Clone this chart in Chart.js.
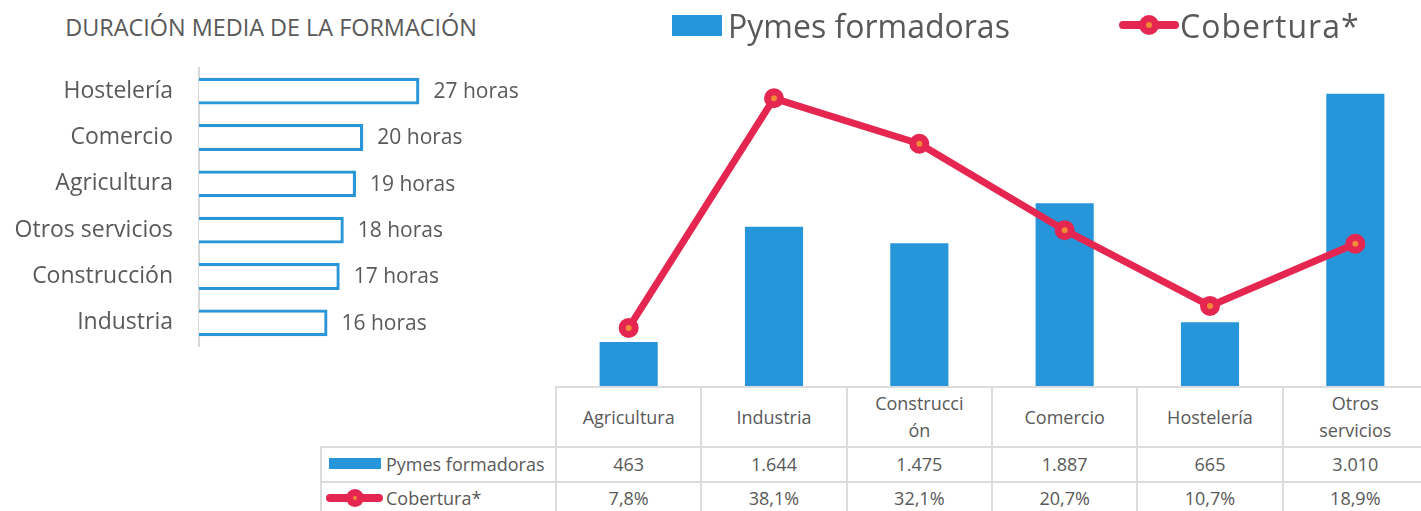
<!DOCTYPE html>
<html lang="es"><head><meta charset="utf-8">
<script src="https://cdn.jsdelivr.net/npm/chart.js@4/dist/chart.umd.min.js"></script>
<style>
html,body{margin:0;padding:0;background:#fff;}
body{width:1421px;height:511px;overflow:hidden;position:relative;font-family:'Open Sans',sans-serif;color:#595959;}
.abs{position:absolute;}
#title{left:0;top:12px;width:542px;text-align:center;font-size:23.4px;line-height:30px;white-space:nowrap;}
.leg{font-size:32px;line-height:44px;white-space:nowrap;}
.cell{position:absolute;display:flex;align-items:center;justify-content:center;text-align:center;font-size:18px;line-height:27px;white-space:nowrap;}
.hl,.vl{position:absolute;background:#dcdcdc;}
</style></head>
<body>
<div id="title" class="abs">DURACIÓN MEDIA DE LA FORMACIÓN</div>
<canvas id="left" class="abs" width="555" height="400" style="left:0;top:0;"></canvas>
<canvas id="right" class="abs" width="872" height="341" style="left:556px;top:46px;"></canvas>
<div id="legend"></div>
<div id="table"></div>
<script>
// ---- data ----
const durCategories = ['Hostelería','Comercio','Agricultura','Otros servicios','Construcción','Industria'];
const durHours = [27.1, 20.2, 19.3, 17.8, 17.3, 15.8];

const sectors = ['Agricultura','Industria','Construcción','Comercio','Hostelería','Otros servicios'];
const sectorHeaderLines = [['Agricultura'],['Industria'],['Construcci','ón'],['Comercio'],['Hostelería'],['Otros','servicios']];
const pymes = [463, 1644, 1475, 1887, 665, 3010];
const cobertura = [7.8, 38.1, 32.1, 20.7, 10.7, 18.9];
const seriesNames = ['Pymes formadoras','Cobertura*'];

const BLUE = '#2795d9', RED = '#e42650', ORANGE = '#f08a37', TXT = '#595959';
const FONT = "'Open Sans', sans-serif";

// ---- left chart ----
const valueLabels = {
  id:'valueLabels',
  afterDatasetsDraw(chart){
    const ctx = chart.ctx; const meta = chart.getDatasetMeta(0);
    ctx.save(); ctx.font = "21px " + FONT; ctx.fillStyle = TXT; ctx.textBaseline = 'middle'; ctx.textAlign='left';
    meta.data.forEach((bar,i)=>{ ctx.fillText(Math.round(durHours[i]) + ' horas', bar.x + 14, bar.y + 1); });
    ctx.restore();
  }
};
new Chart(document.getElementById('left'), {
  type:'bar',
  data:{labels:durCategories, datasets:[{data:durHours, backgroundColor:'#ffffff', borderColor:'#2a96d8', borderWidth:3.3, barPercentage:0.58, categoryPercentage:1}]},
  options:{
    indexAxis:'y', responsive:false, animation:false, events:[],
    layout:{autoPadding:false, padding:{top:68, bottom:54, left:0, right:112}},
    plugins:{legend:{display:false}, tooltip:{enabled:false}, title:{display:false}},
    scales:{
      x:{display:false, min:0, max:30},
      y:{afterFit(s){ s.width = 199; }, grid:{display:false, drawTicks:false}, border:{display:true, color:'#d9d9d9', width:2},
         ticks:{color:TXT, font:{family:FONT, size:23}, padding:26}}
    }
  },
  plugins:[valueLabels]
});

// ---- right chart ----
const rightCanvas = document.getElementById('right');
const chartR = new Chart(rightCanvas, {
  type:'bar',
  data:{labels:sectors, datasets:[
    {type:'line', label:seriesNames[1], data:cobertura, yAxisID:'y1', borderColor:RED, borderWidth:7,
     borderJoinStyle:'round', borderCapStyle:'round', tension:0,
     pointRadius:6.5, pointBorderWidth:7, pointBackgroundColor:ORANGE, pointBorderColor:RED, order:1, clip:false},
    {type:'bar', label:seriesNames[0], data:pymes, yAxisID:'y', backgroundColor:BLUE, barPercentage:0.4, categoryPercentage:1, order:2}
  ]},
  options:{
    responsive:false, animation:false, events:[],
    layout:{autoPadding:false, padding:0},
    plugins:{legend:{display:false}, tooltip:{enabled:false}},
    scales:{x:{display:false}, y:{display:false, min:0, max:3500}, y1:{display:false, position:'right', min:0, max:45}}
  }
});

// ---- legend (HTML) ----
function el(parent, cls, style, html){ const d=document.createElement('div'); if(cls) d.className=cls; Object.assign(d.style, style); if(html!==undefined) d.innerHTML=html; parent.appendChild(d); return d; }
function lineKey(parent, x1, x2, cy, thick, r, dot){
  el(parent,'abs',{left:x1+'px', top:(cy-thick/2)+'px', width:(x2-x1)+'px', height:thick+'px', background:RED, borderRadius:(thick/2)+'px'});
  const cx=(x1+x2)/2;
  el(parent,'abs',{left:(cx-r)+'px', top:(cy-r)+'px', width:(2*r)+'px', height:(2*r)+'px', background:RED, borderRadius:'50%'});
  el(parent,'abs',{left:(cx-dot/2)+'px', top:(cy-dot/2)+'px', width:dot+'px', height:dot+'px', background:ORANGE, borderRadius:'50%'});
}
const legend = document.getElementById('legend');
el(legend,'abs',{left:'672px', top:'15px', width:'50px', height:'21px', background:BLUE});
el(legend,'abs leg',{left:'728px', top:'4px'}, seriesNames[0]);
lineKey(legend, 1119, 1179, 25, 8.5, 10, 6);
el(legend,'abs leg',{left:'1180px', top:'4px', letterSpacing:'1px'}, seriesNames[1]);

// ---- data table (HTML, aligned to the chart's x scale) ----
const table = document.getElementById('table');
const xs = chartR.scales.x;
const cLeft = 556;
const colW = xs.width / sectors.length;
const tTop = 387, r1 = 447, r2 = 482, r3 = 515, tBot = 520;
const fmtInt = v => String(v).replace(/\B(?=(\d{3})+(?!\d))/g, '.');
const fmtPct = v => v.toFixed(1).replace('.', ',') + '%';
sectors.forEach((s,i)=>{
  const cx = cLeft + xs.getPixelForTick(i);
  el(table,'cell',{left:(cx-colW/2)+'px', top:tTop+'px', width:colW+'px', height:(r1-tTop)+'px'}, sectorHeaderLines[i].join('<br>'));
  el(table,'cell',{left:(cx-colW/2)+'px', top:r1+'px', width:colW+'px', height:(r2-r1)+'px'}, fmtInt(pymes[i]));
  el(table,'cell',{left:(cx-colW/2)+'px', top:r2+'px', width:colW+'px', height:(r3-r2)+'px'}, fmtPct(cobertura[i]));
});
// grid lines
const gridL = cLeft + xs.left, gridR = cLeft + xs.right;
el(table,'hl',{left:(gridL-1)+'px', top:(tTop-1)+'px', width:(gridR-gridL+2)+'px', height:'2px'});
el(table,'hl',{left:'320px', top:(r1-1)+'px', width:(gridR-320)+'px', height:'2px'});
el(table,'hl',{left:'320px', top:(r2-1)+'px', width:(gridR-320)+'px', height:'2px'});
for(let k=0;k<=sectors.length;k++){
  const x = gridL + k*colW;
  el(table,'vl',{left:(x-1)+'px', top:(tTop-1)+'px', width:'2px', height:(tBot-tTop)+'px'});
}
el(table,'vl',{left:'320px', top:(r1-1)+'px', width:'2px', height:(tBot-r1)+'px'});
// row keys
el(table,'abs',{left:'329px', top:'458px', width:'52px', height:'11px', background:BLUE});
el(table,'cell',{left:'386px', top:r1+'px', height:(r2-r1)+'px', justifyContent:'flex-start'}, seriesNames[0]);
lineKey(table, 326, 383, 498, 8, 9, 4);
el(table,'cell',{left:'386px', top:r2+'px', height:(r3-r2)+'px', justifyContent:'flex-start'}, seriesNames[1]);
</script>
</body></html>
